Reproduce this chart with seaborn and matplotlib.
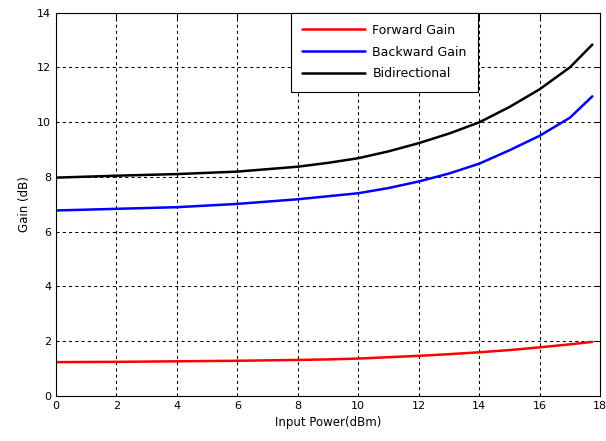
import numpy as np
import pandas as pd
import matplotlib
matplotlib.use("Agg")
import matplotlib.pyplot as plt
import seaborn as sns

# data
power = [0, 2, 4, 6, 8, 9, 10, 11, 12, 13, 14, 15, 16, 17, 17.74]
forward = [1.23, 1.24, 1.26, 1.28, 1.31, 1.33, 1.36, 1.41, 1.46, 1.52, 1.59, 1.67, 1.77, 1.88, 1.97]
backward = [6.77, 6.83, 6.89, 7.01, 7.18, 7.29, 7.40, 7.59, 7.83, 8.12, 8.48, 8.97, 9.50, 10.16, 10.94]
bidir = [7.97, 8.04, 8.10, 8.19, 8.37, 8.51, 8.68, 8.93, 9.23, 9.58, 9.99, 10.55, 11.20, 12.00, 12.83]

labels = ["Forward Gain", "Backward Gain", "Bidirectional"]
df = pd.DataFrame({
    "power": power * 3,
    "gain": forward + backward + bidir,
    "series": [labels[0]] * len(power) + [labels[1]] * len(power) + [labels[2]] * len(power),
})

sns.set_style("white")
plt.rcParams["font.family"] = ["DejaVu Sans"]

fig = plt.figure(figsize=(6.06, 4.41), dpi=100)
ax = fig.add_axes([0.0924, 0.1025, 0.898, 0.869])

sns.lineplot(data=df, x="power", y="gain", hue="series",
             palette={labels[0]: "red", labels[1]: "blue", labels[2]: "black"},
             linewidth=1.8, ax=ax)

ax.set_xlim(0, 18)
ax.set_ylim(0, 14)
ax.set_xticks(np.arange(0, 19, 2))
ax.set_yticks(np.arange(0, 15, 2))
ax.grid(True, color="black", linestyle=(0, (3, 3)), linewidth=0.75)
ax.tick_params(direction="in", top=True, right=True, length=4, width=0.75,
               colors="black", labelsize=8)
for s in ax.spines.values():
    s.set_color("black")
    s.set_linewidth(0.8)
ax.set_xlabel("Input Power(dBm)", fontsize=8.5, color="black")
ax.set_ylabel("Gain (dB)", fontsize=8.5, color="black")

leg = ax.legend(loc="upper left", bbox_to_anchor=(0.432, 1.0), fancybox=False,
                edgecolor="black", framealpha=1, fontsize=9, handlelength=5.0,
                handletextpad=0.6, borderpad=0.9, labelspacing=0.7,
                borderaxespad=0)
leg.get_frame().set_linewidth(0.8)
for t in leg.get_texts():
    t.set_color("black")

fig.savefig("out.png", dpi=100)
